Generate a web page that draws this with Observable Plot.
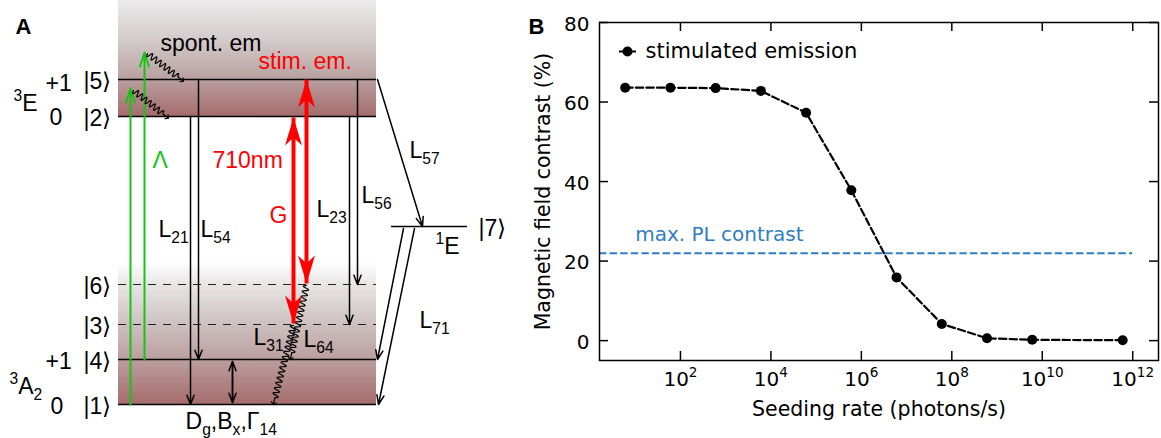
<!DOCTYPE html>
<html>
<head>
<meta charset="utf-8">
<script src="https://cdn.jsdelivr.net/npm/d3@7"></script>
<script src="https://cdn.jsdelivr.net/npm/@observablehq/plot@0.6"></script>
<style>
  html, body { margin: 0; padding: 0; background: #fff; }
  #fig { position: relative; width: 1161px; height: 438px; overflow: hidden; }
  #fig > svg { position: absolute; top: 0; }
</style>
</head>
<body>
<div id="fig"></div>
<script>
// ---------- Panel A: level scheme (diagram units, y grows downward) ----------
const manifolds = [
  {term: "3E", x1: 118, x2: 376, y1: 0, y2: 116, gradient: "bandE"},
  {term: "3A2", x1: 118, x2: 376, y1: 262, y2: 404, gradient: "bandA"}
];
const solidLevels = [
  {state: 5, y: 79, x1: 118, x2: 376},
  {state: 2, y: 116, x1: 118, x2: 376},
  {state: 4, y: 359, x1: 118, x2: 376},
  {state: 1, y: 404, x1: 118, x2: 376},
  {state: 7, y: 226, x1: 391, x2: 467}
];
const virtualLevels = [
  {state: 6, y: 284, x1: 118, x2: 376},
  {state: 3, y: 324, x1: 118, x2: 376}
];
const decays = [
  {rate: "L21", x1: 190, y1: 116, x2: 190, y2: 404},
  {rate: "L54", x1: 198, y1: 79, x2: 198, y2: 359},
  {rate: "L23", x1: 349, y1: 116, x2: 349, y2: 324},
  {rate: "L56", x1: 357, y1: 79, x2: 357, y2: 284},
  {rate: "L57", x1: 377, y1: 79, x2: 422, y2: 226},
  {rate: "L71", x1: 403, y1: 228, x2: 377, y2: 359},
  {rate: "L71", x1: 414, y1: 228, x2: 378, y2: 404}
];
const groundMixing = [{x1: 232, y1: 361, x2: 232, y2: 402}];
const pumps = [
  {x1: 130, y1: 404, x2: 130, y2: 88},
  {x1: 144, y1: 359, x2: 144, y2: 52}
];
const relaxations = [
  {id: "e5", x1: 147, y1: 53, x2: 182, y2: 80},
  {id: "e2", x1: 133, y1: 90, x2: 167, y2: 117},
  {id: "L64", x1: 306, y1: 285, x2: 290, y2: 358},
  {id: "L31", x1: 293, y1: 325, x2: 273, y2: 403}
];
const opticalTransitions = [
  {name: "710nm", x1: 293, y1: 117, x2: 293, y2: 323},
  {name: "G", x1: 306, y1: 79, x2: 306, y2: 283}
];
const stateLabels = [
  {text: "|5⟩", x: 83, y: 88}, {text: "|2⟩", x: 83, y: 125},
  {text: "|6⟩", x: 83, y: 293}, {text: "|3⟩", x: 83, y: 333},
  {text: "|4⟩", x: 83, y: 368}, {text: "|1⟩", x: 83, y: 413},
  {text: "|7⟩", x: 478, y: 235}
];
const spinLabels = [
  {text: "+1", x: 45, y: 90}, {text: "0", x: 49, y: 124},
  {text: "+1", x: 45, y: 368}, {text: "0", x: 50, y: 413}
];
const termLabels = [
  {text: "^{3}E", x: 13, y: 110},
  {text: "^{3}A_{2}", x: 9, y: 393},
  {text: "^{1}E", x: 435, y: 253}
];
const rateLabels = [
  {text: "L_{21}", x: 158, y: 236}, {text: "L_{54}", x: 200, y: 236},
  {text: "L_{23}", x: 316, y: 216}, {text: "L_{56}", x: 361, y: 202},
  {text: "L_{57}", x: 409, y: 157}, {text: "L_{71}", x: 419, y: 327},
  {text: "L_{31}", x: 253, y: 344}, {text: "L_{64}", x: 303, y: 346},
  {text: "D_{g},B_{x},Γ_{14}", x: 185, y: 428},
  {text: "spont. em", x: 160, y: 50}
];
const redLabels = [
  {text: "stim. em.", x: 258, y: 68},
  {text: "710nm", x: 212, y: 167},
  {text: "G", x: 269, y: 222}
];
const greenLabels = [{text: "Λ", x: 152, y: 167}];

// ---------- Panel B: contrast vs seeding rate ----------
const seedingRate = [6, 6e1, 6e2, 6e3, 6e4, 6e5, 6e6, 6e7, 6e8, 6e9, 6e11];
const fieldContrast = [63.6, 63.6, 63.5, 62.8, 57.3, 37.8, 15.9, 4.2, 0.6, 0.2, 0.1];
const plContrast = 22;
const plNote = [{text: "max. PL contrast", x: 10, y: 25}];
const xTicks = [1e2, 1e4, 1e6, 1e8, 1e10, 1e12];
const yTicks = [0, 20, 40, 60, 80];
const seriesName = "stimulated emission";
const xLabel = "Seeding rate (photons/s)";
const yLabel = "Magnetic field contrast (%)";

const RED = "#ff0000", GREEN = "#16c416", BLUE = "#2f7dc2";
const NS = "http://www.w3.org/2000/svg";

// Wavy path between consecutive points, ending in a short straight run.
function wavy(context) {
  let pts;
  return {
    areaStart() {}, areaEnd() {},
    lineStart() { pts = []; },
    point(x, y) { pts.push([+x, +y]); },
    lineEnd() {
      for (let i = 1; i < pts.length; ++i) {
        const [x0, y0] = pts[i - 1], [x1, y1] = pts[i];
        const dx = x1 - x0, dy = y1 - y0, L = Math.hypot(dx, dy);
        const ux = dx / L, uy = dy / L, nx = -uy, ny = ux;
        const run = Math.max(L - 6, 1), waves = Math.max(1, Math.round(run / 5.4));
        if (i === 1) context.moveTo(x0, y0);
        const steps = waves * 14;
        for (let k = 1; k <= steps; ++k) {
          const s = (k / steps) * run, a = 3 * Math.sin((2 * Math.PI * k * waves) / steps);
          context.lineTo(x0 + ux * s + nx * a, y0 + uy * s + ny * a);
        }
        context.lineTo(x1, y1);
      }
    }
  };
}

// Filled stealth heads for both ends of each optical transition.
function stealthHeads(arrows, len, half, notch) {
  const out = [];
  arrows.forEach((d, i) => {
    const ends = [[d.x1, d.y1, d.x2, d.y2], [d.x2, d.y2, d.x1, d.y1]];
    ends.forEach(([ax, ay, tx, ty], j) => {
      const L = Math.hypot(tx - ax, ty - ay), ux = (tx - ax) / L, uy = (ty - ay) / L, nx = -uy, ny = ux;
      const id = `${i}-${j}`;
      out.push({id, x: tx, y: ty});
      out.push({id, x: tx - ux * len + nx * half, y: ty - uy * len + ny * half});
      out.push({id, x: tx - ux * (len - notch), y: ty - uy * (len - notch)});
      out.push({id, x: tx - ux * len - nx * half, y: ty - uy * len - ny * half});
    });
  });
  return out;
}

// Turn "_{..}" and "^{..}" in text nodes into sub/superscript tspans.
function applyScripts(svg) {
  for (const t of svg.querySelectorAll("text")) {
    const targets = t.querySelector("tspan") ? [...t.querySelectorAll("tspan")] : [t];
    for (const el of targets) {
      const s = el.textContent;
      if (!/[_^]\{/.test(s)) continue;
      const fs = parseFloat(getComputedStyle(el).fontSize);
      el.textContent = "";
      let shift = 0, last = 0, m;
      const add = (txt, kind) => {
        const sp = document.createElementNS(NS, "tspan");
        const target = kind === "_" ? fs * 0.3 : kind === "^" ? -fs * 0.42 : 0;
        sp.setAttribute("dy", (target - shift).toFixed(2));
        shift = target;
        if (kind) sp.setAttribute("font-size", (fs * 0.68).toFixed(2));
        sp.textContent = txt;
        el.appendChild(sp);
      };
      const re = /([_^])\{([^}]*)\}/g;
      while ((m = re.exec(s))) {
        if (m.index > last) add(s.slice(last, m.index), null);
        add(m[2], m[1]);
        last = re.lastIndex;
      }
      if (last < s.length) add(s.slice(last), null);
    }
  }
}

function addGradients(svg, list) {
  const defs = document.createElementNS(NS, "defs");
  for (const g of list) {
    const lg = document.createElementNS(NS, "linearGradient");
    lg.setAttribute("id", g.id);
    lg.setAttribute("x1", 0); lg.setAttribute("y1", 0);
    lg.setAttribute("x2", 0); lg.setAttribute("y2", 1);
    for (const [o, c] of g.stops) {
      const st = document.createElementNS(NS, "stop");
      st.setAttribute("offset", o);
      st.setAttribute("stop-color", c);
      lg.appendChild(st);
    }
    defs.appendChild(lg);
  }
  svg.insertBefore(defs, svg.firstChild);
}

const fontA = "'Liberation Sans', Arial, sans-serif";
const txt = (data, fill, size = 23, extra = {}) =>
  Plot.text(data, {x: "x", y: "y", text: "text", fill, fontSize: size, textAnchor: "start", lineAnchor: "bottom", ...extra});

const panelA = Plot.plot({
  width: 520, height: 438,
  marginTop: 0, marginRight: 0, marginBottom: 0, marginLeft: 0,
  x: {domain: [0, 520], range: [0, 520], axis: null},
  y: {domain: [0, 438], range: [0, 438], axis: null},
  style: {fontFamily: fontA, background: "transparent", color: "black"},
  marks: [
    Plot.rect([manifolds[0]], {x1: "x1", x2: "x2", y1: "y1", y2: "y2", fill: "url(#bandE)"}),
    Plot.rect([manifolds[1]], {x1: "x1", x2: "x2", y1: "y1", y2: "y2", fill: "url(#bandA)"}),
    Plot.ruleY(virtualLevels, {y: "y", x1: "x1", x2: "x2", stroke: "#222", strokeWidth: 1, strokeDasharray: "8,7"}),
    Plot.ruleY(solidLevels, {y: "y", x1: "x1", x2: "x2", stroke: "black", strokeWidth: 1.5}),
    Plot.arrow(decays, {x1: "x1", y1: "y1", x2: "x2", y2: "y2", stroke: "black", strokeWidth: 1.5, headLength: 10, headAngle: 42}),
    Plot.arrow(groundMixing, {x1: "x1", y1: "y1", x2: "x2", y2: "y2", stroke: "black", strokeWidth: 1.5, headLength: 10, headAngle: 42}),
    Plot.arrow(groundMixing, {x1: "x2", y1: "y2", x2: "x1", y2: "y1", stroke: "black", strokeWidth: 1.5, headLength: 10, headAngle: 42}),
    Plot.arrow(pumps, {x1: "x1", y1: "y1", x2: "x2", y2: "y2", stroke: GREEN, strokeWidth: 2, headLength: 11, headAngle: 36}),
    Plot.line(relaxations.flatMap((d) => [{id: d.id, x: d.x1, y: d.y1}, {id: d.id, x: d.x2, y: d.y2}]),
      {x: "x", y: "y", z: "id", curve: wavy, stroke: "black", strokeWidth: 1.2, markerEnd: "arrow"}),
    Plot.link(opticalTransitions, {x1: "x1", y1: "y1", x2: "x2", y2: "y2", stroke: RED, strokeWidth: 4, insetStart: 20, insetEnd: 20}),
    Plot.line(stealthHeads(opticalTransitions, 28, 8.5, 8), {x: "x", y: "y", z: "id", fill: RED, stroke: "none", curve: "linear-closed"}),
    txt(stateLabels, "black"),
    txt(spinLabels, "black"),
    txt(termLabels, "black"),
    txt(rateLabels, "black"),
    txt(redLabels, RED),
    txt(greenLabels, GREEN),
    Plot.text(["A"], {x: null, y: null, frameAnchor: "top-left", dx: 15, dy: 33, lineAnchor: "bottom", textAnchor: "start", fontSize: 22, fontWeight: "bold", text: (d) => d})
  ]
});

const xDomain = [10 ** 0.21, 10 ** 12.57];
const frameW = 641 - 79 - 3, frameH = 438 - 22 - 78, tickLen = 9;
const dash = "7.4,3.2";
const points = seedingRate.map((x, i) => ({x, y: fieldContrast[i]}));
const legendHandle = {draw(ctx) { ctx.moveTo(-8.5, 0); ctx.lineTo(8.5, 0); }};

const panelB = Plot.plot({
  width: 641, height: 438,
  marginLeft: 79, marginRight: 3, marginTop: 22, marginBottom: 78,
  style: {fontFamily: "'DejaVu Sans', sans-serif", fontSize: "20px", background: "transparent", color: "black"},
  x: {type: "log", domain: xDomain},
  y: {domain: [-5, 80]},
  marks: [
    Plot.ruleY([plContrast], {x1: xDomain[0], x2: 1e12, stroke: BLUE, strokeWidth: 2, strokeDasharray: dash}),
    Plot.text(plNote, {x: "x", y: "y", text: "text", fill: BLUE, fontSize: 20, textAnchor: "start", lineAnchor: "bottom"}),
    Plot.line(points, {x: "x", y: "y", stroke: "black", strokeWidth: 2.2, strokeDasharray: dash}),
    Plot.dot(points, {x: "x", y: "y", r: 5, fill: "black"}),
    Plot.ruleX(xTicks, {insetTop: frameH - tickLen, stroke: "black", strokeWidth: 1.5}),
    Plot.ruleX(xTicks, {insetBottom: frameH - tickLen, stroke: "black", strokeWidth: 1.5}),
    Plot.ruleY(yTicks, {insetRight: frameW - tickLen, stroke: "black", strokeWidth: 1.5}),
    Plot.ruleY(yTicks, {insetLeft: frameW - tickLen, stroke: "black", strokeWidth: 1.5}),
    Plot.frame({stroke: "black", strokeWidth: 1.5}),
    Plot.axisX({ticks: xTicks, tickSize: 0, tickPadding: 11, fontSize: 20, label: null,
      tickFormat: (d) => `10^{${Math.round(Math.log10(d))}}`}),
    Plot.axisY({ticks: yTicks, tickSize: 0, tickPadding: 10, fontSize: 20, label: null, dy: 2}),
    Plot.text([yLabel], {x: null, y: null, frameAnchor: "left", rotate: -90, dx: -56, textAnchor: "middle", lineAnchor: "middle", fontSize: 20.5, text: (d) => d}),
    Plot.text([xLabel], {x: null, y: null, frameAnchor: "bottom", dy: 49, textAnchor: "middle", lineAnchor: "middle", fontSize: 20.5, text: (d) => d}),
    Plot.dot([seriesName], {x: null, y: null, frameAnchor: "top-left", dx: 28, dy: 29, symbol: legendHandle, r: 5, stroke: "black", strokeWidth: 2, fill: "none"}),
    Plot.dot([seriesName], {x: null, y: null, frameAnchor: "top-left", dx: 28, dy: 29, r: 5, fill: "black"}),
    Plot.text([seriesName], {x: null, y: null, frameAnchor: "top-left", dx: 46, dy: 29, fontSize: 21, textAnchor: "start", lineAnchor: "middle", text: (d) => d}),
    Plot.text(["B"], {x: null, y: null, frameAnchor: "top-left", dx: -71, dy: 11, lineAnchor: "bottom", textAnchor: "start", fontSize: 22, fontWeight: "bold", fontFamily: fontA, text: (d) => d})
  ]
});

const fig = document.getElementById("fig");
panelA.style.left = "0px";
panelB.style.left = "520px";
fig.append(panelA, panelB);
addGradients(panelA, [
  {id: "bandE", stops: [[0, "#ebebeb"], [0.35, "#d3caca"], [0.68, "#b9a0a0"], [1, "#a66c6c"]]},
  {id: "bandA", stops: [[0, "#ffffff"], [0.15, "#e9e6e6"], [0.44, "#cdc0c0"], [0.69, "#bb9e9e"], [1, "#a66c6c"]]}
]);
applyScripts(panelA);
applyScripts(panelB);
</script>
</body>
</html>
